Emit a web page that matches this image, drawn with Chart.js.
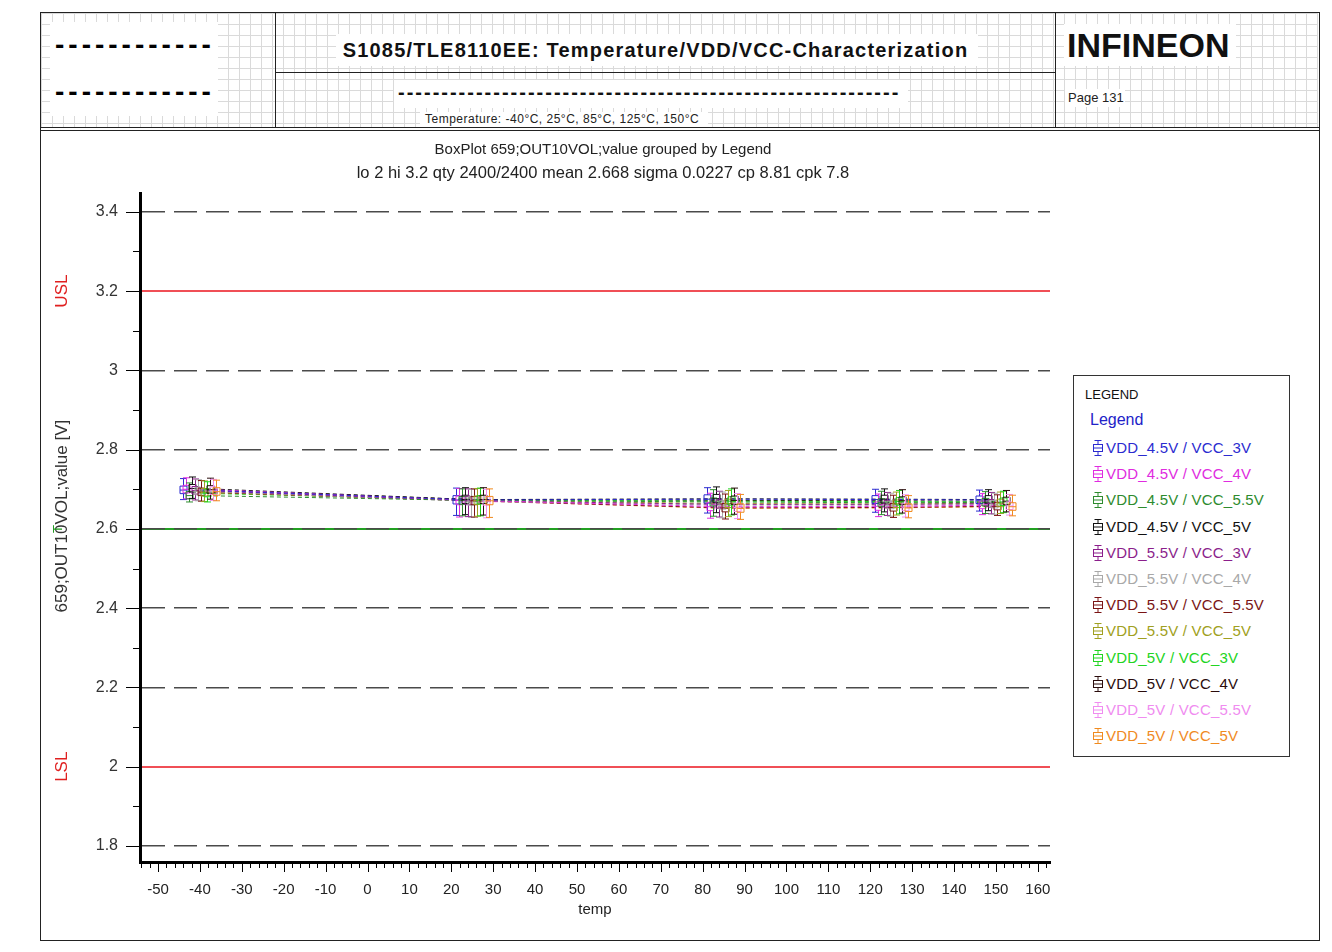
<!DOCTYPE html>
<html>
<head>
<meta charset="utf-8">
<script src="https://cdn.jsdelivr.net/npm/chart.js@4.4.0/dist/chart.umd.min.js"></script>
<style>
body { margin: 0; background: #fff; font-family: "Liberation Sans", Arial, sans-serif; }
#page { position: relative; width: 1332px; height: 952px; overflow: hidden; }
.abs { position: absolute; }
.paper {
  background-color: #fff;
  background-image: linear-gradient(#dadada 1px, transparent 1px), linear-gradient(90deg, #dadada 1px, transparent 1px);
  background-size: 11px 11px;
}
.ln { position: absolute; background: #222; }
.wb { background: #fff; }
#legend { left: 1073px; top: 375px; width: 215px; height: 380px; border: 1px solid #333; background: #fff; }
#legend .item { position: absolute; left: 18px; height: 20px; line-height: 20px; font-size: 15px; letter-spacing: 0.2px; white-space: nowrap; }
#legend svg { vertical-align: middle; margin-right: 2px; position: relative; top: -1px; }
</style>
</head>
<body>
<div id="page">
  <!-- header -->
  <div class="abs paper" style="left:41px;top:13px;width:1277px;height:114px;"></div>
  <div class="abs wb" style="left:50px;top:22px;width:168px;height:94px;"></div>
  <div class="abs" style="left:55px;top:29px;font-size:28px;font-weight:bold;line-height:32px;letter-spacing:4px;">------------</div>
  <div class="abs" style="left:55px;top:76px;font-size:28px;font-weight:bold;line-height:32px;letter-spacing:4px;">------------</div>

  <div class="abs wb" style="left:336px;top:34px;width:642px;height:32px;"></div>
  <div class="abs" style="left:266px;top:37px;width:779px;text-align:center;font-size:20px;font-weight:bold;line-height:26px;letter-spacing:1.2px;color:#111;">S1085/TLE8110EE: Temperature/VDD/VCC-Characterization</div>
  <div class="abs wb" style="left:394px;top:80px;width:514px;height:28px;"></div>
  <div class="abs" style="left:398px;top:80px;font-size:20px;font-weight:bold;line-height:24px;letter-spacing:2px;color:#111;">----------------------------------------------------------</div>
  <div class="abs wb" style="left:420px;top:112px;width:288px;height:15px;"></div>
  <div class="abs" style="left:425px;top:112px;font-size:12px;line-height:15px;letter-spacing:0.5px;color:#222;">Temperature: -40°C, 25°C, 85°C, 125°C, 150°C</div>

  <div class="abs wb" style="left:1064px;top:24px;width:172px;height:42px;"></div>
  <div class="abs" style="left:1067px;top:24px;font-size:34px;font-weight:bold;line-height:42px;color:#111;">INFINEON</div>
  <div class="abs wb" style="left:1065px;top:89px;width:60px;height:18px;"></div>
  <div class="abs" style="left:1068px;top:89px;font-size:13px;line-height:18px;color:#222;">Page 131</div>

  <!-- frame lines -->
  <div class="ln" style="left:40px;top:12px;width:1280px;height:1px;"></div>
  <div class="ln" style="left:40px;top:12px;width:1px;height:929px;"></div>
  <div class="ln" style="left:1319px;top:12px;width:1px;height:929px;"></div>
  <div class="ln" style="left:40px;top:940px;width:1280px;height:1px;"></div>
  <div class="ln" style="left:275px;top:12px;width:1px;height:116px;"></div>
  <div class="ln" style="left:1055px;top:12px;width:1px;height:116px;"></div>
  <div class="ln" style="left:275px;top:72px;width:780px;height:1px;"></div>
  <div class="ln" style="left:40px;top:127px;width:1280px;height:1px;"></div>
  <div class="ln" style="left:40px;top:130px;width:1280px;height:1px;"></div>

  <!-- chart -->
  <div class="abs" style="left:42px;top:132px;width:1122px;height:806px;">
    <canvas id="chart" width="1122" height="806"></canvas>
  </div>

  <div id="legend" class="abs">
    <div class="abs" style="left:11px;top:11px;font-size:13px;line-height:16px;color:#111;">LEGEND</div>
    <div class="abs" style="left:16px;top:34px;font-size:16px;line-height:20px;color:#2222c8;">Legend</div>
  </div>
</div>

<script>
// temperatures on the x axis
const temps = [-40, 25, 85, 125, 150];

const seriesNames = [
  'VDD_4.5V / VCC_3V', 'VDD_4.5V / VCC_4V', 'VDD_4.5V / VCC_5.5V', 'VDD_4.5V / VCC_5V',
  'VDD_5.5V / VCC_3V', 'VDD_5.5V / VCC_4V', 'VDD_5.5V / VCC_5.5V', 'VDD_5.5V / VCC_5V',
  'VDD_5V / VCC_3V', 'VDD_5V / VCC_4V', 'VDD_5V / VCC_5.5V', 'VDD_5V / VCC_5V'
];
const seriesColors = [
  '#2b2bd0', '#e02be0', '#2e8b2e', '#111111',
  '#8b1e8b', '#a8a8a8', '#7a1414', '#a0a020',
  '#22d422', '#2a0c0c', '#f08cf0', '#f08a1e'
];

// box statistics, one row per series, one column per temperature
const medians = [
  [2.698, 2.673, 2.675, 2.674, 2.673],
  [2.700, 2.672, 2.656, 2.657, 2.660],
  [2.684, 2.672, 2.668, 2.666, 2.667],
  [2.702, 2.674, 2.676, 2.675, 2.674],
  [2.697, 2.671, 2.662, 2.662, 2.664],
  [2.695, 2.670, 2.660, 2.660, 2.662],
  [2.693, 2.671, 2.653, 2.654, 2.657],
  [2.692, 2.672, 2.664, 2.663, 2.665],
  [2.690, 2.673, 2.670, 2.669, 2.668],
  [2.699, 2.674, 2.672, 2.671, 2.670],
  [2.696, 2.670, 2.654, 2.655, 2.658],
  [2.694, 2.671, 2.652, 2.653, 2.656]
];
const q1s = [
  [2.689, 2.663, 2.665, 2.664, 2.664],
  [2.691, 2.661, 2.646, 2.647, 2.651],
  [2.676, 2.662, 2.658, 2.657, 2.658],
  [2.693, 2.664, 2.666, 2.665, 2.665],
  [2.688, 2.661, 2.652, 2.653, 2.655],
  [2.686, 2.660, 2.650, 2.651, 2.653],
  [2.684, 2.661, 2.643, 2.645, 2.648],
  [2.683, 2.662, 2.654, 2.654, 2.656],
  [2.681, 2.663, 2.660, 2.660, 2.659],
  [2.690, 2.664, 2.662, 2.662, 2.661],
  [2.687, 2.660, 2.644, 2.646, 2.649],
  [2.685, 2.661, 2.642, 2.644, 2.647]
];
const q3s = [
  [2.708, 2.684, 2.686, 2.684, 2.683],
  [2.710, 2.683, 2.667, 2.668, 2.670],
  [2.694, 2.682, 2.678, 2.676, 2.677],
  [2.712, 2.685, 2.687, 2.685, 2.684],
  [2.707, 2.682, 2.673, 2.672, 2.674],
  [2.705, 2.681, 2.671, 2.670, 2.672],
  [2.703, 2.682, 2.664, 2.664, 2.667],
  [2.702, 2.683, 2.675, 2.673, 2.675],
  [2.700, 2.684, 2.681, 2.679, 2.678],
  [2.709, 2.685, 2.683, 2.681, 2.680],
  [2.706, 2.681, 2.665, 2.665, 2.668],
  [2.704, 2.682, 2.663, 2.663, 2.666]
];
const mins = [
  [2.674, 2.634, 2.640, 2.642, 2.645],
  [2.676, 2.630, 2.627, 2.631, 2.636],
  [2.668, 2.633, 2.632, 2.636, 2.639],
  [2.677, 2.636, 2.641, 2.643, 2.646],
  [2.673, 2.631, 2.630, 2.634, 2.638],
  [2.671, 2.629, 2.628, 2.632, 2.637],
  [2.670, 2.630, 2.625, 2.629, 2.634],
  [2.669, 2.632, 2.631, 2.635, 2.639],
  [2.668, 2.633, 2.635, 2.638, 2.641],
  [2.675, 2.635, 2.637, 2.640, 2.643],
  [2.672, 2.628, 2.626, 2.630, 2.635],
  [2.671, 2.629, 2.624, 2.628, 2.633]
];
const maxs = [
  [2.727, 2.703, 2.704, 2.700, 2.698],
  [2.729, 2.702, 2.690, 2.688, 2.689],
  [2.716, 2.701, 2.699, 2.695, 2.694],
  [2.731, 2.704, 2.706, 2.701, 2.699],
  [2.726, 2.701, 2.695, 2.692, 2.692],
  [2.724, 2.700, 2.693, 2.690, 2.690],
  [2.722, 2.701, 2.688, 2.685, 2.686],
  [2.721, 2.702, 2.697, 2.693, 2.693],
  [2.719, 2.703, 2.701, 2.697, 2.695],
  [2.728, 2.704, 2.703, 2.699, 2.697],
  [2.725, 2.700, 2.689, 2.686, 2.687],
  [2.723, 2.701, 2.687, 2.684, 2.685]
];

// spec limits and target
const usl = 3.2;
const lsl = 2.0;
const target = 2.6;

// tick labels
const yTicks = [1.8, 2, 2.2, 2.4, 2.6, 2.8, 3, 3.2, 3.4];
const xTicks = [-50, -40, -30, -20, -10, 0, 10, 20, 30, 40, 50, 60, 70, 80, 90, 100, 110, 120, 130, 140, 150, 160];

const FONT = '"Liberation Sans", Arial, sans-serif';

// legend entries (html, built from the series arrays)
const legendEl = document.getElementById('legend');
seriesNames.forEach((name, i) => {
  const c = seriesColors[i];
  const d = document.createElement('div');
  d.className = 'item';
  d.style.top = (62 + i * 26.2) + 'px';
  d.style.color = c;
  d.innerHTML = '<svg width="12" height="18"><g stroke="' + c + '" fill="none" stroke-width="1">' +
    '<line x1="6" y1="1" x2="6" y2="5.5"/><line x1="2.5" y1="1.5" x2="9.5" y2="1.5"/>' +
    '<rect x="1.5" y="5.5" width="9" height="7"/><line x1="1.5" y1="9" x2="10.5" y2="9"/>' +
    '<line x1="6" y1="12.5" x2="6" y2="17"/><line x1="2.5" y1="16.5" x2="9.5" y2="16.5"/></g></svg>' + name;
  legendEl.appendChild(d);
});

const isSpec = v => Math.abs(v - usl) < 1e-6 || Math.abs(v - lsl) < 1e-6;

const boxPlugin = {
  id: 'boxes',
  beforeDraw(chart) {
    const {ctx, scales: {y}, chartArea: a} = chart;
    const py = Math.round(y.getPixelForValue(target));
    ctx.save();
    ctx.setLineDash([]);
    ctx.strokeStyle = '#22a022';
    ctx.lineWidth = 2;
    ctx.beginPath(); ctx.moveTo(a.left, py); ctx.lineTo(a.right, py); ctx.stroke();
    ctx.restore();
  },
  afterDatasetsDraw(chart) {
    const {ctx, scales: {x, y}, chartArea: a} = chart;
    ctx.save();
    // spec limit lines
    ctx.setLineDash([]);
    ctx.strokeStyle = 'rgb(235, 20, 30)';
    ctx.lineWidth = 1.5;
    [usl, lsl].forEach(v => {
      const py = Math.round(y.getPixelForValue(v));
      ctx.beginPath(); ctx.moveTo(a.left + 2, py); ctx.lineTo(a.right, py); ctx.stroke();
    });
    // boxes
    ctx.lineWidth = 1;
    const hw = 3.5;
    seriesNames.forEach((n, i) => {
      ctx.strokeStyle = seriesColors[i];
      temps.forEach((t, j) => {
        const cx = Math.round(x.getPixelForValue(t) + (i - 5.5) * 3) + 0.5;
        const yMin = y.getPixelForValue(mins[i][j]);
        const yQ1 = y.getPixelForValue(q1s[i][j]);
        const yMed = y.getPixelForValue(medians[i][j]);
        const yQ3 = y.getPixelForValue(q3s[i][j]);
        const yMax = y.getPixelForValue(maxs[i][j]);
        ctx.beginPath();
        ctx.moveTo(cx, yMax); ctx.lineTo(cx, yQ3);
        ctx.moveTo(cx, yQ1); ctx.lineTo(cx, yMin);
        ctx.moveTo(cx - hw, yMax); ctx.lineTo(cx + hw, yMax);
        ctx.moveTo(cx - hw, yMin); ctx.lineTo(cx + hw, yMin);
        ctx.moveTo(cx - hw, yMed); ctx.lineTo(cx + hw, yMed);
        ctx.rect(cx - hw, yQ3, hw * 2, yQ1 - yQ3);
        ctx.stroke();
      });
    });
    ctx.restore();
  },
  afterDraw(chart) {
    const {ctx, scales: {x, y}, chartArea: a} = chart;
    ctx.save();
    ctx.strokeStyle = '#000';
    ctx.lineWidth = 1;
    ctx.beginPath();
    for (let k = 18; k <= 34; k++) {
      const py = Math.round(y.getPixelForValue(k / 10)) + 0.5;
      const len = k % 2 === 0 ? 14 : 7;
      ctx.moveTo(a.left - len, py); ctx.lineTo(a.left, py);
    }
    for (let t = -54; t <= 162; t += 2) {
      const px = Math.round(x.getPixelForValue(t)) + 0.5;
      const len = t % 10 === 0 ? 10 : 6;
      ctx.moveTo(px, a.bottom); ctx.lineTo(px, a.bottom + len);
    }
    ctx.stroke();

    // spec labels on the left
    const lab = (txt, v, color, size, dx) => {
      ctx.save();
      ctx.translate(20 + dx, y.getPixelForValue(v));
      ctx.rotate(-Math.PI / 2);
      ctx.fillStyle = color;
      ctx.font = size + 'px ' + FONT;
      ctx.textAlign = 'center';
      ctx.textBaseline = 'middle';
      ctx.fillText(txt, 0, 0);
      ctx.restore();
    };
    lab('USL', usl, '#e02020', 17, 0);
    lab('LSL', lsl, '#e02020', 17, 0);
    lab('T', target, '#1f9a1f', 13, -4);
    ctx.restore();
  }
};

new Chart(document.getElementById('chart'), {
  type: 'line',
  data: {
    datasets: seriesNames.map((name, i) => ({
      label: name,
      data: temps.map((t, j) => ({x: t, y: medians[i][j]})),
      borderColor: seriesColors[i],
      borderWidth: 1,
      borderDash: [4, 3],
      pointRadius: 0,
      fill: false,
      tension: 0
    }))
  },
  options: {
    responsive: false,
    animation: false,
    devicePixelRatio: 1,
    layout: { padding: 0 },
    plugins: {
      legend: { display: false },
      tooltip: { enabled: false },
      title: {
        display: true,
        text: 'BoxPlot 659;OUT10VOL;value grouped by Legend',
        color: '#222',
        font: { family: FONT, size: 15, weight: 'normal' },
        padding: { top: 9, bottom: 0 }
      },
      subtitle: {
        display: true,
        text: 'lo 2 hi 3.2 qty 2400/2400 mean 2.668 sigma 0.0227 cp 8.81 cpk 7.8',
        color: '#222',
        font: { family: FONT, size: 16.5, weight: 'normal' },
        padding: { top: 5, bottom: 10 }
      }
    },
    scales: {
      x: {
        type: 'linear',
        position: 'bottom',
        min: -54.3,
        max: 162.9,
        afterBuildTicks: s => { s.ticks = xTicks.map(v => ({value: v})); },
        afterFit: s => { s.height = 76; },
        grid: { drawOnChartArea: false, drawTicks: false },
        border: { display: true, color: '#000', width: 3 },
        ticks: {
          color: '#222', padding: 19, maxRotation: 0, autoSkip: false,
          font: { family: FONT, size: 15 }
        },
        title: {
          display: true, text: 'temp', color: '#222',
          font: { family: FONT, size: 15 },
          padding: { top: 0, bottom: 19 }
        }
      },
      y: {
        type: 'linear',
        position: 'left',
        min: 1.7596,
        max: 3.4455,
        afterBuildTicks: s => { s.ticks = yTicks.map(v => ({value: v})); },
        afterFit: s => { s.width = 98; },
        grid: {
          drawTicks: false,
          lineWidth: 1.5,
          color: c => (c.tick && isSpec(c.tick.value)) ? 'rgba(0,0,0,0)' : '#4a4a4a'
        },
        border: { display: true, color: '#000', width: 3, dash: [23, 9] },
        ticks: {
          color: '#333', padding: 22,
          font: { family: FONT, size: 16 },
          callback: v => String(Math.round(v * 10) / 10)
        },
        title: {
          display: true, text: '\u00a0\u00a0\u00a0\u00a0\u00a0659;OUT10VOL;value [V]', color: '#333',
          font: { family: FONT, size: 17 },
          padding: { top: 10, bottom: 0 }
        }
      },
      // empty space on the right that the legend box sits in
      side: {
        type: 'linear',
        position: 'right',
        afterFit: s => { s.width = 114; },
        grid: { display: false },
        border: { display: false },
        ticks: { display: false }
      }
    }
  },
  plugins: [boxPlugin]
});
</script>
</body>
</html>
